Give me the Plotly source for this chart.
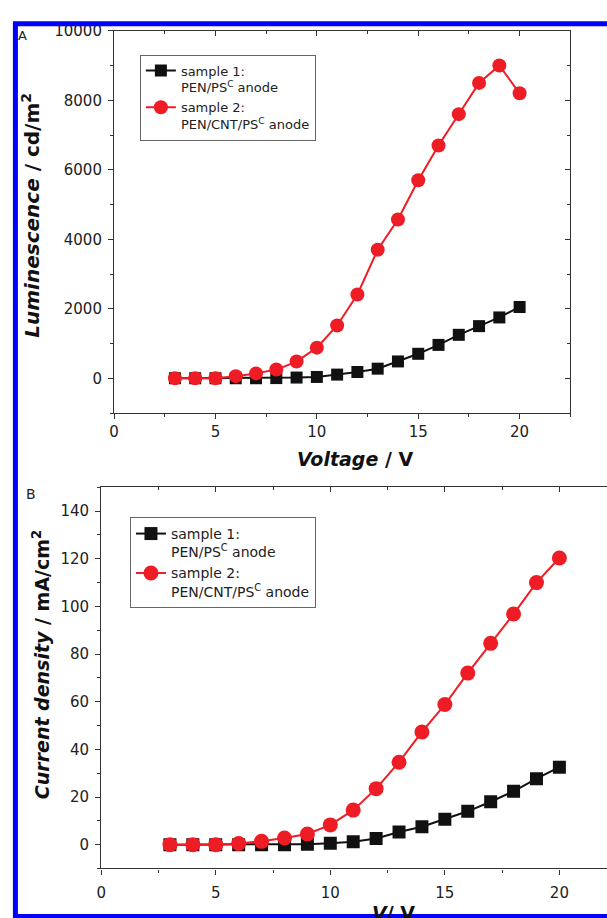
import plotly.graph_objects as go

# ---------------- data ----------------
voltage = [3, 4, 5, 6, 7, 8, 9, 10, 11, 12, 13, 14, 15, 16, 17, 18, 19, 20]

lum_sample1 = [0, 0, 0, 0, 0, 5, 20, 37, 105, 180, 276, 484, 704, 960, 1250, 1500, 1750, 2050]
lum_sample2 = [0, 0, 0, 60, 140, 250, 480, 880, 1520, 2410, 3700, 4570, 5700, 6700, 7600, 8500, 9000, 8200]

cur_sample1 = [0, 0, 0, 0, 0, 0, 0.2, 0.6, 1.2, 2.6, 5.3, 7.5, 10.7, 14, 18, 22.4, 27.7, 32.5]
cur_sample2 = [0, 0, 0, 0.5, 1.4, 2.8, 4.5, 8.3, 14.5, 23.5, 34.6, 47.3, 58.8, 72, 84.5, 96.8, 110, 120.3]

name_s1 = "sample 1:<br>PEN/PS<sup>C</sup> anode"
name_s2 = "sample 2:<br>PEN/CNT/PS<sup>C</sup> anode"

lum_ticks = [0, 2000, 4000, 6000, 8000, 10000]
lum_ticklabels = ["0", "2000", "4000", "6000", "8000", "10000"]
cur_ticks = [0, 20, 40, 60, 80, 100, 120, 140]
v_ticks = [0, 5, 10, 15, 20]

# ---------------- geometry helpers ----------------
W, H = 607, 918
def px(x):
    return x / W
def py(y):
    return 1 - y / H

BLACK = "#111111"
RED = "#ee1c25"
AXC = "#333333"
FONT = "DejaVu Sans, Liberation Sans, Arial, sans-serif"

fig = go.Figure()

fig.add_trace(go.Scatter(x=voltage, y=lum_sample1, mode="lines+markers", name=name_s1,
                         line=dict(color=BLACK, width=2),
                         marker=dict(symbol="square", size=12, color=BLACK),
                         xaxis="x", yaxis="y", legend="legend"))
fig.add_trace(go.Scatter(x=voltage, y=lum_sample2, mode="lines+markers", name=name_s2,
                         line=dict(color=RED, width=2),
                         marker=dict(symbol="circle", size=14, color=RED),
                         xaxis="x", yaxis="y", legend="legend"))
fig.add_trace(go.Scatter(x=voltage, y=cur_sample1, mode="lines+markers", name=name_s1,
                         line=dict(color=BLACK, width=2),
                         marker=dict(symbol="square", size=13, color=BLACK),
                         xaxis="x2", yaxis="y2", legend="legend2"))
fig.add_trace(go.Scatter(x=voltage, y=cur_sample2, mode="lines+markers", name=name_s2,
                         line=dict(color=RED, width=2),
                         marker=dict(symbol="circle", size=15, color=RED),
                         xaxis="x2", yaxis="y2", legend="legend2"))
# empty traces so the frame axes exist
fig.add_trace(go.Scatter(x=[], y=[], xaxis="x3", yaxis="y3", showlegend=False))
fig.add_trace(go.Scatter(x=[], y=[], xaxis="x4", yaxis="y2", showlegend=False))

tickfont = dict(family=FONT, size=15, color="#222")
axis_common = dict(showgrid=False, zeroline=False, showline=True, linecolor=AXC, linewidth=1.3,
                   tickcolor=AXC, tickwidth=1.3, tickfont=tickfont)

top_x_dom = [px(110), px(570)]
top_y_dom = [py(408), py(22)]
bot_x_dom = [px(97), 1.0]
bot_y_dom = [py(868), py(483)]

fig.update_layout(
    width=W, height=H,
    margin=dict(l=0, r=0, t=0, b=0),
    paper_bgcolor="white", plot_bgcolor="white",
    font=dict(family=FONT, color="#222"),
    xaxis=dict(domain=top_x_dom, range=[0, 22.5], anchor="y", tickvals=v_ticks,
               ticks="outside", ticklen=5,
               minor=dict(dtick=2.5, tick0=0, ticks="outside", ticklen=3, tickcolor=AXC, tickwidth=1.3),
               **axis_common),
    yaxis=dict(domain=top_y_dom, range=[-1000, 10000], anchor="x", tickvals=lum_ticks,
               ticktext=lum_ticklabels, ticks="outside", ticklen=5, ticklabelstandoff=3,
               minor=dict(dtick=1000, tick0=0, ticks="outside", ticklen=3, tickcolor=AXC, tickwidth=1.3),
               **axis_common),
    xaxis3=dict(overlaying="x", side="top", anchor="y", range=[0, 22.5], tickvals=v_ticks,
                ticks="inside", ticklen=5, showticklabels=False,
                minor=dict(dtick=2.5, tick0=0, ticks="inside", ticklen=3, tickcolor=AXC, tickwidth=1.3),
                **axis_common),
    yaxis3=dict(overlaying="y", side="right", anchor="x", range=[-1000, 10000], tickvals=lum_ticks,
                ticks="inside", ticklen=5, showticklabels=False,
                minor=dict(dtick=1000, tick0=0, ticks="inside", ticklen=3, tickcolor=AXC, tickwidth=1.3),
                **axis_common),
    xaxis2=dict(domain=bot_x_dom, range=[0, (607 - 97) / 23.1], anchor="y2", tickvals=v_ticks,
                ticks="outside", ticklen=5, ticklabelstandoff=5,
                minor=dict(dtick=2.5, tick0=0, ticks="outside", ticklen=3, tickcolor=AXC, tickwidth=1.3),
                **axis_common),
    yaxis2=dict(domain=bot_y_dom, range=[-10, 150], anchor="x2", tickvals=cur_ticks,
                ticks="outside", ticklen=5, ticklabelstandoff=3,
                minor=dict(dtick=10, tick0=0, ticks="outside", ticklen=3, tickcolor=AXC, tickwidth=1.3),
                **axis_common),
    xaxis4=dict(overlaying="x2", side="top", anchor="y2", range=[0, (607 - 97) / 23.1], tickvals=v_ticks,
                ticks="inside", ticklen=5, showticklabels=False,
                minor=dict(dtick=2.5, tick0=0, ticks="inside", ticklen=3, tickcolor=AXC, tickwidth=1.3),
                **axis_common),
    legend=dict(x=px(136), y=py(46), xanchor="left", yanchor="top",
                bgcolor="white", bordercolor="#666", borderwidth=1,
                font=dict(family=FONT, size=13, color="#222"), valign="top",
                itemwidth=30, tracegroupgap=0),
    legend2=dict(x=px(126), y=py(513), xanchor="left", yanchor="top",
                 bgcolor="white", bordercolor="#666", borderwidth=1,
                 font=dict(family=FONT, size=14, color="#222"), valign="top",
                 itemwidth=30, tracegroupgap=0),
    showlegend=True,
)

title_font = dict(family=FONT, size=19, color="#111")
annots = [
    dict(x=px(18), y=py(27), text="A", font=dict(family=FONT, size=13, color="#222")),
    dict(x=px(26), y=py(490), text="B", font=dict(family=FONT, size=14, color="#222")),
    dict(x=px(26), y=py(208), text="<b><i>Luminescence</i> / cd/m<sup>2</sup></b>", textangle=-90,
         font=dict(family=FONT, size=20, color="#111")),
    dict(x=px(353), y=py(454), text="<b><i>Voltage</i> / V</b>", font=title_font),
    dict(x=px(36), y=py(662), text="<b><i>Current density</i> / mA/cm<sup>2</sup></b>", textangle=-90, font=title_font),
    dict(x=px(392), y=py(913), text="<b><i>V</i>/ V</b>", font=title_font),
]
for a in annots:
    fig.add_annotation(xref="paper", yref="paper", showarrow=False, xanchor="center", yanchor="middle", **a)

# blue frame around the figure
fig.add_shape(type="rect", xref="paper", yref="paper",
              x0=px(10.5), x1=px(640), y0=py(916.5), y1=py(15),
              line=dict(color="#0000ff", width=5), fillcolor="rgba(0,0,0,0)", layer="above")

fig.write_html("out.html")
